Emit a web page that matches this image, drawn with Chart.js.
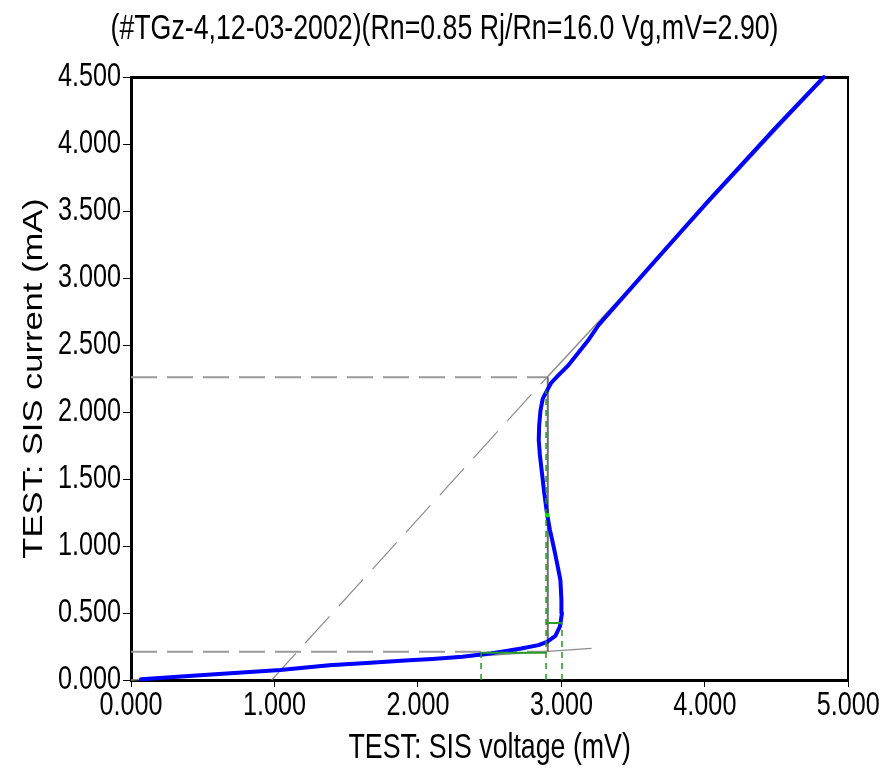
<!DOCTYPE html>
<html>
<head>
<meta charset="utf-8">
<script src="https://cdn.jsdelivr.net/npm/chart.js@4/dist/chart.umd.min.js"></script>
<style>
  html, body { margin: 0; padding: 0; background: #ffffff; }
  canvas { display: block; }
</style>
</head>
<body>
<canvas id="c" width="889" height="773"></canvas>
<script>
// ---- data ----
const chartTitle = "(#TGz-4,12-03-2002)(Rn=0.85 Rj/Rn=16.0 Vg,mV=2.90)";
const xTitle = "TEST: SIS voltage (mV)";
const yTitle = "TEST: SIS current (mA)";
const xTicks = [0, 1, 2, 3, 4, 5];
const yTicks = [0, 0.5, 1, 1.5, 2, 2.5, 3, 3.5, 4, 4.5];

// measured I-V curve (blue)
const ivVoltage = [0.07, 0.48, 1.04, 1.38, 1.64, 1.94, 2.10, 2.31, 2.50, 2.72, 2.84, 2.90, 2.958, 2.99, 3.004, 3.00, 2.993, 2.97, 2.947, 2.92, 2.90, 2.88, 2.865, 2.85, 2.842, 2.845, 2.854, 2.87, 2.90, 2.93, 2.98, 3.05, 3.19, 3.26, 3.63, 4.02, 4.50, 4.83];
const ivCurrent = [0.005, 0.035, 0.075, 0.110, 0.126, 0.147, 0.157, 0.173, 0.197, 0.235, 0.260, 0.285, 0.330, 0.400, 0.500, 0.600, 0.745, 0.870, 0.990, 1.120, 1.240, 1.400, 1.540, 1.680, 1.790, 1.900, 2.010, 2.100, 2.160, 2.220, 2.275, 2.350, 2.540, 2.650, 3.100, 3.570, 4.130, 4.500];

// subgap (Rj) fit line
const rjV = [0.0, 3.21];
const rjI = [0.0, 0.236];
// normal-state (Rn) fit line, solid part and dashed extrapolation
const rnV = [2.90, 4.84];
const rnI = [2.26, 4.50];
const rnExtV = [0.98, 2.90];
const rnExtI = [0.0, 2.26];
// horizontal dashed guides
const gapTopV = [0.0, 2.90];
const gapTopI = [2.26, 2.26];
const gapLowV = [0.0, 2.90];
const gapLowI = [0.21, 0.21];
// gap voltage vertical
const vgV = [2.905, 2.905];
const vgI = [0.21, 2.26];
// green markers
const green1V = [2.44, 2.44];
const green1I = [0.0, 0.203];
const green2V = [2.893, 2.893];
const green2I = [0.0, 2.16];
const green3V = [3.004, 3.004];
const green3I = [0.0, 0.425];
const greenH1V = [2.44, 2.893];
const greenH1I = [0.203, 0.203];
const greenH2V = [2.893, 3.004];
const greenH2I = [0.425, 0.425];
const greenPtV = [2.90];
const greenPtI = [1.23];

const pts = (xs, ys) => xs.map((x, i) => ({ x: x, y: ys[i] }));

const FONT = "'Liberation Sans', Arial, sans-serif";
const TEXT_SQUEEZE = 0.775; // the reference picture is condensed horizontally

// condensed text rendering: squeeze glyphs horizontally (screen x) around their anchor
const canvas = document.getElementById('c');
const ctx2d = canvas.getContext('2d');
const origFillText = ctx2d.fillText.bind(ctx2d);
ctx2d.fillText = function (text, x, y, maxWidth) {
  const m = this.getTransform();
  const p = m.transformPoint(new DOMPoint(x, y));
  this.save();
  this.setTransform(new DOMMatrix().translate(p.x, p.y).scale(TEXT_SQUEEZE, 1).translate(-p.x, -p.y).multiply(m));
  if (maxWidth !== undefined) origFillText(text, x, y, maxWidth / TEXT_SQUEEZE);
  else origFillText(text, x, y);
  this.restore();
};

function lineDs(xs, ys, color, width, dash, order) {
  return {
    data: pts(xs, ys),
    showLine: true,
    borderColor: color,
    backgroundColor: color,
    borderWidth: width,
    borderDash: dash || [],
    pointRadius: 0,
    tension: 0,
    order: order,
    clip: false
  };
}

const datasets = [
  Object.assign(lineDs(greenPtV, greenPtI, '#00e000', 0, [], 0), { showLine: false, pointRadius: 3, pointStyle: 'rect', pointBorderWidth: 0 }),
  lineDs(green1V, green1I, '#1f9a1f', 1.5, [6, 5], 1),
  lineDs(green2V, green2I, '#1f9a1f', 1.5, [6, 5], 1),
  lineDs(green3V, green3I, '#1f9a1f', 1.5, [6, 5], 1),
  lineDs(greenH1V, greenH1I, '#2a9a2a', 2, [], 1),
  lineDs(greenH2V, greenH2I, '#2a9a2a', 2, [], 1),
  Object.assign(lineDs(ivVoltage, ivCurrent, '#0000ff', 4, [], 2), { borderJoinStyle: 'round', borderCapStyle: 'round' }),
  lineDs(vgV, vgI, '#6e6e6e', 2, [], 3),
  lineDs(rjV, rjI, '#8c8c8c', 1.5, [], 3),
  lineDs(rnV, rnI, '#8c8c8c', 1.5, [], 3),
  lineDs(rnExtV, rnExtI, '#8c8c8c', 1.2, [36, 14], 3),
  lineDs(gapTopV, gapTopI, '#999999', 2, [26, 10], 3),
  lineDs(gapLowV, gapLowI, '#999999', 2, [26, 10], 3)
];

const tickFont = { family: FONT, size: 32.5, lineHeight: 1.2 };
const titleFont = { family: FONT, size: 34.5, weight: 'normal', lineHeight: 1.2 };

new Chart(canvas, {
  type: 'scatter',
  data: { datasets: datasets },
  options: {
    responsive: false,
    devicePixelRatio: 1,
    animation: false,
    layout: { padding: 0 },
    plugins: {
      legend: { display: false },
      tooltip: { enabled: false },
      title: {
        display: true,
        text: chartTitle,
        color: '#000',
        font: titleFont,
        padding: { top: 9, bottom: 26.6 }
      }
    },
    scales: {
      x: {
        type: 'linear',
        position: 'bottom',
        min: 0, max: 5,
        afterBuildTicks: (s) => { s.ticks = xTicks.map(v => ({ value: v })); },
        ticks: {
          callback: (v) => Number(v).toFixed(3),
          color: '#000',
          font: tickFont,
          padding: 0,
          maxRotation: 0,
          autoSkip: false
        },
        grid: { drawOnChartArea: false, drawTicks: true, tickLength: 7, tickColor: '#000', tickWidth: 1 },
        border: { display: true, color: '#000', width: 3 },
        title: {
          display: true, text: xTitle, color: '#000',
          font: titleFont,
          padding: { top: 0, bottom: 4.3 }
        },
        afterFit: (s) => { s.height = 93; }
      },
      xTop: {
        type: 'linear',
        position: 'top',
        min: 0, max: 5,
        ticks: { display: false },
        grid: { drawOnChartArea: false, drawTicks: false },
        border: { display: true, color: '#000', width: 3 },
        afterFit: (s) => { s.height = 0; }
      },
      y: {
        type: 'linear',
        position: 'left',
        min: 0, max: 4.5,
        afterBuildTicks: (s) => { s.ticks = yTicks.map(v => ({ value: v })); },
        ticks: {
          callback: (v) => Number(v).toFixed(3),
          color: '#000',
          font: tickFont,
          padding: 2,
          autoSkip: false
        },
        grid: { drawOnChartArea: false, drawTicks: true, tickLength: 8, tickColor: '#000', tickWidth: 1 },
        border: { display: true, color: '#000', width: 3 },
        title: {
          display: true, text: yTitle, color: '#000',
          font: titleFont,
          padding: { top: 14.3, bottom: 0 }
        },
        afterFit: (s) => { s.width = 131; }
      },
      yRight: {
        type: 'linear',
        position: 'right',
        min: 0, max: 4.5,
        ticks: { display: false },
        grid: { drawOnChartArea: false, drawTicks: false },
        border: { display: true, color: '#000', width: 2 },
        afterFit: (s) => { s.width = 38; }
      }
    }
  }
});
</script>
</body>
</html>
